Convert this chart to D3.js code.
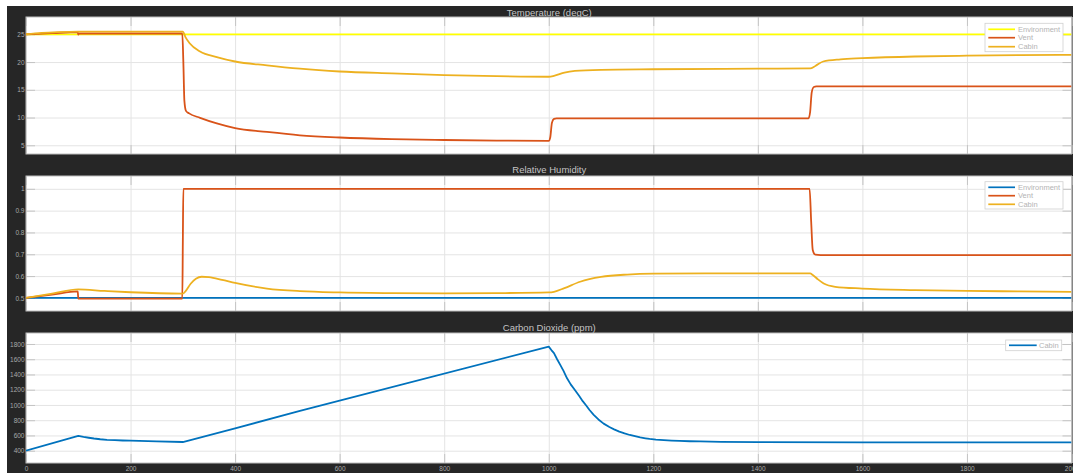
<!DOCTYPE html>
<html><head><meta charset="utf-8">
<script src="https://cdn.jsdelivr.net/npm/d3@7"></script>
<style>
html,body{margin:0;padding:0;background:#fff;}
svg{display:block;font-family:"Liberation Sans",Arial,sans-serif;}
</style></head>
<body>
<svg id="chart" width="1073" height="473"></svg>
<script>
// ---------------- DATA ----------------
const xTicks = [0,200,400,600,800,1000,1200,1400,1600,1800,2000];

// Temperature (degC)
const tempYTicks = [5,10,15,20,25];
const tempEnvT = [0,2000];
const tempEnvV = [25,25];
const tempVentT = [0,50,99,100,101,102,299,301,303,306,312,333,365,400,461,524,600,700,800,900,1000,1003,1006,1010,1015,1497,1500,1503,1507,1512,2000];
const tempVentV = [25,25.2,25.4,24.95,25.1,25.15,25.15,20,13,11.2,10.75,9.95,8.95,8.1,7.4,6.8,6.4,6.1,5.95,5.85,5.8,6.5,9.0,9.75,9.85,9.85,11,14.5,15.5,15.6,15.6];
const tempCabinT = [0,30,60,100,200,300,305,313,333,365,400,461,524,600,700,800,900,1000,1010,1030,1050,1100,1200,1400,1500,1510,1525,1558,1600,1700,1800,1900,2000];
const tempCabinV = [25,25.25,25.4,25.5,25.5,25.5,24.5,23.4,21.9,20.9,20.1,19.4,18.8,18.3,17.95,17.65,17.45,17.35,17.5,18.1,18.4,18.6,18.7,18.8,18.85,19.3,20.1,20.5,20.7,21.0,21.15,21.25,21.3];

// Relative Humidity
const rhYTicks = [0.5,0.6,0.7,0.8,0.9,1];
const rhEnvT = [0,2000];
const rhEnvV = [0.5,0.5];
const rhVentT = [0,50,99,100,299,300,301,1499,1502,1505,1510,1520,2000];
const rhVentV = [0.5,0.515,0.53,0.497,0.497,0.75,1.0,1.0,0.85,0.72,0.698,0.696,0.696];
const rhCabinT = [0,50,100,150,200,300,305,315,325,336,350,375,400,461,524,600,700,800,900,1000,1010,1030,1060,1100,1150,1200,1300,1500,1505,1515,1526,1548,1600,1700,1800,1900,2000];
const rhCabinV = [0.5,0.52,0.539,0.532,0.526,0.52,0.53,0.565,0.588,0.597,0.595,0.583,0.569,0.543,0.531,0.525,0.522,0.521,0.522,0.525,0.528,0.545,0.574,0.596,0.607,0.611,0.612,0.612,0.605,0.585,0.566,0.551,0.543,0.536,0.532,0.530,0.528];

// Carbon Dioxide (ppm)
const co2YTicks = [400,600,800,1000,1200,1400,1600,1800];
const co2CabinT = [0,100,110,120,130,142,155,170,185,200,250,300,400,524,1000,1005,1010,1016,1022,1028,1035,1042,1050,1058,1065,1072,1078,1086,1095,1105,1116,1125,1135,1145,1155,1165,1175,1185,1193,1205,1220,1235,1250,1270,1290,1330,1400,1600,2000];
const co2CabinV = [400,593,580,570,560,550,543,538,534,531,523,514,694,921,1765,1720,1680,1600,1525,1450,1350,1270,1197,1120,1050,990,934,870,810,755,711,680,650,626,606,590,575,563,554,545,538,532,528,524,521,516,512,510,510];

// ---------------- STYLE ----------------
const C = {env:"#FFFF00", vent:"#D95319", cabin:"#EDB120", blue:"#0072BD"};
const svg = d3.select("#chart");
const W = 1073, H = 473;
svg.append("rect").attr("x",7).attr("y",6).attr("width",W-7).attr("height",H-6).attr("fill","#262626");

const x = d3.scaleLinear().domain([0,2000]).range([26,1071.5]);

const panels = [
  {title:"Temperature (degC)", top:17, bottom:154, titleY:12, dom:[3.43,28.12], ticks:tempYTicks, fmt:d3.format("d"), curve:d3.curveMonotoneX,
   series:[{t:tempEnvT,v:tempEnvV,c:C.env,name:"Environment"},{t:tempVentT,v:tempVentV,c:C.vent,name:"Vent"},{t:tempCabinT,v:tempCabinV,c:C.cabin,name:"Cabin"}],
   legend:{x0:985,x1:1063,y0:23.3,y1:51.7,rows:[29.3,37.7,46.7],lx0:988.3,lx1:1015,tx:1018}},
  {title:"Relative Humidity", top:176, bottom:311, titleY:169.5, dom:[0.44,1.0587], ticks:rhYTicks, fmt:d => d===1?"1":d3.format(".1f")(d), curve:d3.curveMonotoneX,
   series:[{t:rhEnvT,v:rhEnvV,c:C.blue,name:"Environment"},{t:rhVentT,v:rhVentV,c:C.vent,name:"Vent"},{t:rhCabinT,v:rhCabinV,c:C.cabin,name:"Cabin"}],
   legend:{x0:985,x1:1063,y0:181.7,y1:209,rows:[187.3,195.7,204.3],lx0:988.3,lx1:1015,tx:1018}},
  {title:"Carbon Dioxide (ppm)", top:333, bottom:463, titleY:327, dom:[238.6,1944], ticks:co2YTicks, fmt:d3.format("d"), curve:d3.curveLinear,
   series:[{t:co2CabinT,v:co2CabinV,c:C.blue,name:"Cabin"}],
   legend:{x0:1005.7,x1:1061.7,y0:340,y1:350.7,rows:[345.3],lx0:1009,lx1:1036.7,tx:1039}, xlabels:true}
];

const x0 = x.range()[0], x1 = x.range()[1];
panels.forEach(p => {
  const y = d3.scaleLinear().domain(p.dom).range([p.bottom,p.top]);
  const g = svg.append("g");
  g.append("rect").attr("x",x0).attr("y",p.top).attr("width",x1-x0).attr("height",p.bottom-p.top).attr("fill","#fff");
  // grid
  const gy = g.append("g").attr("transform",`translate(${x0},0)`)
    .call(d3.axisLeft(y).tickValues(p.ticks).tickSize(-(x1-x0)).tickFormat(""));
  gy.select(".domain").remove();
  gy.selectAll("line").attr("stroke","#e4e4e4").attr("stroke-width",1);
  const gx = g.append("g").attr("transform",`translate(0,${p.bottom})`)
    .call(d3.axisBottom(x).tickValues(xTicks).tickSize(-(p.bottom-p.top)).tickFormat(""));
  gx.select(".domain").remove();
  gx.selectAll("line").attr("stroke","#e4e4e4").attr("stroke-width",1);
  // inner ticks
  const tk = (sel) => { sel.select(".domain").remove(); sel.selectAll("line").attr("stroke","#c4c4c4"); sel.selectAll("text").remove(); };
  g.append("g").attr("transform",`translate(${x0},0)`).call(d3.axisLeft(y).tickValues(p.ticks).tickSize(-9)).call(tk);
  g.append("g").attr("transform",`translate(${x1},0)`).call(d3.axisRight(y).tickValues(p.ticks).tickSize(-9)).call(tk);
  g.append("g").attr("transform",`translate(0,${p.bottom})`).call(d3.axisBottom(x).tickValues(xTicks).tickSize(-9)).call(tk);
  g.append("g").attr("transform",`translate(0,${p.top})`).call(d3.axisTop(x).tickValues(xTicks).tickSize(-9)).call(tk);
  // border
  g.append("rect").attr("x",x0).attr("y",p.top).attr("width",x1-x0).attr("height",p.bottom-p.top)
    .attr("fill","none").attr("stroke","#bdbdbd").attr("stroke-width",1);
  // y labels
  const yl = g.append("g").attr("transform",`translate(${x0-1.5},0)`)
    .call(d3.axisLeft(y).tickValues(p.ticks).tickSize(0).tickPadding(0).tickFormat(p.fmt));
  yl.select(".domain").remove();
  yl.selectAll("text").attr("fill","#a8a8a8").attr("font-size","6.5px").attr("font-family","Liberation Sans, Arial, sans-serif");
  if (p.xlabels) {
    const xl = g.append("g").attr("transform",`translate(0,${p.bottom})`)
      .call(d3.axisBottom(x).tickValues(xTicks).tickSize(0).tickPadding(3).tickFormat(d3.format("d")));
    xl.select(".domain").remove();
    xl.selectAll("text").attr("fill","#a8a8a8").attr("font-size","6.5px").attr("font-family","Liberation Sans, Arial, sans-serif");
  }
  // title
  svg.append("text").attr("x",(x0+x1)/2+0.5).attr("y",p.titleY).attr("text-anchor","middle").attr("dominant-baseline","central")
    .attr("fill","#c4c4c4").attr("font-size","9.5px").text(p.title);
  // lines
  const clipId = "clip"+p.top;
  svg.append("clipPath").attr("id",clipId).append("rect").attr("x",x0).attr("y",p.top).attr("width",x1-x0).attr("height",p.bottom-p.top);
  const line = d3.line().curve(p.curve).x(d => x(d[0])).y(d => y(d[1]));
  p.series.forEach(s => {
    g.append("path").datum(s.t.map((t,i)=>[t,s.v[i]])).attr("d",line)
      .attr("fill","none").attr("stroke",s.c).attr("stroke-width",1.8).attr("stroke-linejoin","round")
      .attr("clip-path",`url(#${clipId})`);
  });
  // legend
  const L = p.legend;
  g.append("rect").attr("x",L.x0).attr("y",L.y0).attr("width",L.x1-L.x0).attr("height",L.y1-L.y0)
    .attr("fill","#fff").attr("stroke","#d0d0d0").attr("stroke-width",0.8);
  p.series.forEach((s,i) => {
    g.append("line").attr("x1",L.lx0).attr("x2",L.lx1).attr("y1",L.rows[i]).attr("y2",L.rows[i])
      .attr("stroke",s.c).attr("stroke-width",1.7);
    g.append("text").attr("x",L.tx).attr("y",L.rows[i]).attr("dominant-baseline","central")
      .attr("fill","#b4b4b4").attr("font-size","7.5px").text(s.name);
  });
});
</script>
</body></html>
